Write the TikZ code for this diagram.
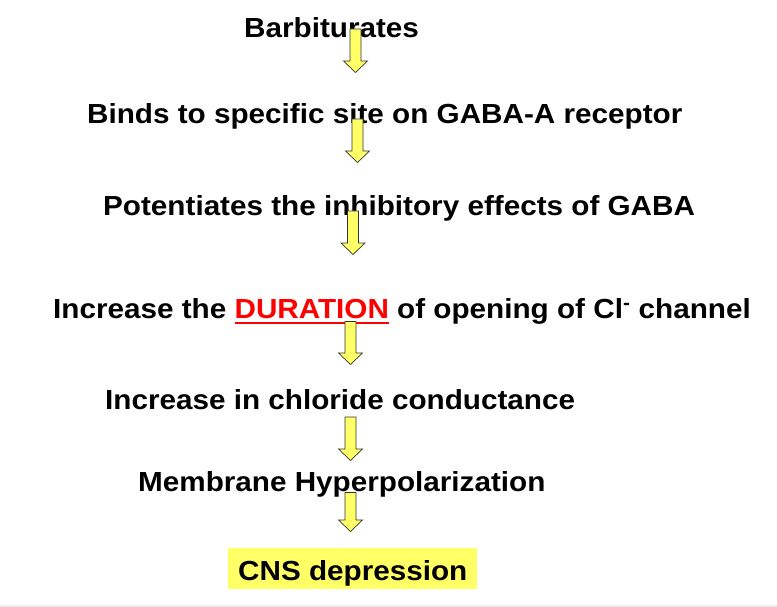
\documentclass[tikz,border=0pt]{standalone}
\usepackage{fontspec}
\setmainfont{Liberation Sans}[FakeStretch=1.075]
\definecolor{hl}{HTML}{FFFF66}
\definecolor{dured}{HTML}{FF0000}
\definecolor{arrowline}{HTML}{333333}
\newcommand\myredul[1]{{\setbox0\hbox{#1}\rlap{\rule[-5.5pt]{\wd0}{2.5pt}}\box0}}
\tikzset{
  txt/.style={anchor=base west,inner sep=0pt,font=\bfseries\fontsize{27.6}{34}\selectfont},
  arrowshape/.style={fill=hl,draw=arrowline,line width=0.7pt,line join=miter},
  pics/darrow/.style={code={
    \filldraw[arrowshape] (-5.5,0) -- (5.5,0) -- (5.5,#1) -- (12,#1) -- (0,{#1+11.5}) -- (-12,#1) -- (-5.5,#1) -- cycle;
  }},
  hlbox/.style={fill=hl,anchor=base west,inner xsep=10pt,inner ysep=0pt,text height=32pt,text depth=9pt,font=\bfseries\fontsize{27.6}{34}\selectfont}
}
\begin{document}
\begin{tikzpicture}[x=1pt,y=-1pt]
\useasboundingbox (0,0) rectangle (777,607);
\fill[white] (0,0) rectangle (777,607);
\fill[black!7] (0,604.5) rectangle (777,607);
\node[txt] (t1) at (244,37.3) {Barbiturates};
\node[txt] (t2) at (87,123.3) {Binds to specific site on GABA-A receptor};
\node[txt] (t3) at (103,215) {Potentiates the inhibitory effects of GABA};
\node[txt] (t4) at (53,318.5) {Increase the \textcolor{dured}{\myredul{DURATION}} of opening of Cl\textsuperscript{-} channel};
\node[txt] (t5) at (105,409.5) {Increase in chloride conductance};
\node[txt] (t6) at (138,491.7) {Membrane Hyperpolarization};
\node[hlbox] (t7) at (228,580) {CNS depression};
\pic (a1) at (355.5,29) {darrow=32};
\pic (a2) at (357.5,119) {darrow=32};
\pic (a3) at (353,211) {darrow=32};
\pic (a4) at (350.5,321.5) {darrow=31.5};
\pic (a5) at (350.5,417) {darrow=32};
\pic (a6) at (350.5,492.5) {darrow=27.5};
\end{tikzpicture}
\end{document}
